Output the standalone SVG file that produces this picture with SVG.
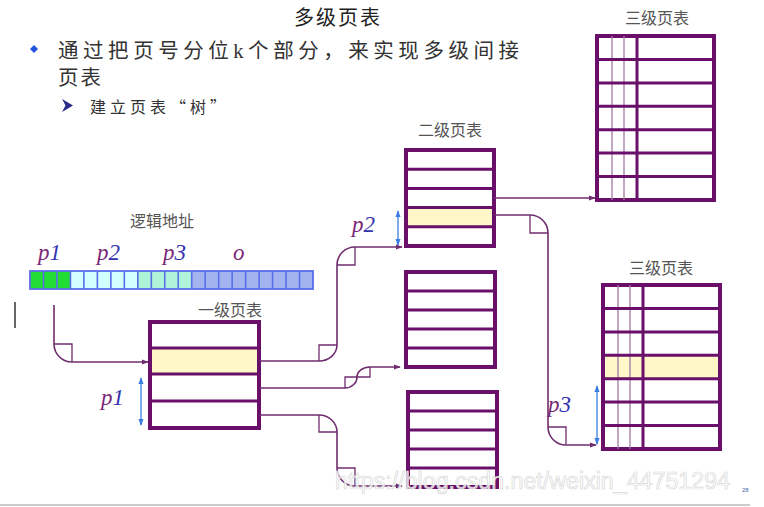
<svg xmlns="http://www.w3.org/2000/svg" width="764" height="507" viewBox="0 0 764 507">
<style>
.t{font-family:"Liberation Serif","Noto Sans CJK SC",serif}
.cjk{font-family:"Noto Sans CJK SC","Liberation Sans",sans-serif}
.lbl{font-family:"Noto Sans CJK SC",sans-serif;font-size:16px;fill:#555}
.tb{fill:#fff;stroke:#6a0f6a;stroke-width:4}
.rl{stroke:#6a0f6a;stroke-width:3}
.cl{stroke:#a47aa4;stroke-width:1.3}
.ck{stroke:#6a0f6a;stroke-width:3}
.hl{fill:#fff7c8}
.cn{fill:none;stroke:#6f2d6f;stroke-width:1.6}
.bx{fill:none;stroke:#6f2d6f;stroke-width:1.3}
.ba{stroke:#3b7de0;stroke-width:1.3}
.pv{font-family:"Liberation Serif",serif;font-style:italic;font-size:23px;fill:#7a2878}
.dg{fill:#3434b0}
</style>
<defs>
<marker id="ah" viewBox="0 0 8 8" refX="7" refY="4" markerWidth="7" markerHeight="7" markerUnits="userSpaceOnUse" orient="auto">
<path d="M0,1 L8,4 L0,7 z" fill="#6f2d6f"/>
</marker>
<marker id="bh" viewBox="0 0 8 8" refX="7" refY="4" markerWidth="7" markerHeight="7" markerUnits="userSpaceOnUse" orient="auto-start-reverse">
<path d="M0,1 L8,4 L0,7 z" fill="#3b7de0"/>
</marker>
</defs>
<rect width="764" height="507" fill="#fff"/>

<!-- header texts -->
<g id="header">
<text x="338" y="25" class="cjk" font-size="20" fill="#222" text-anchor="middle" letter-spacing="2">多级页表</text>
<polygon points="34,45 38,49 34,53 30,49" fill="#2255dd"/>
<text x="58" y="58" class="t" font-size="20.5" fill="#333" textLength="461" lengthAdjust="spacing">通过把页号分位k个部分，来实现多级间接</text>
<text x="58" y="85" class="cjk" font-size="20.5" fill="#333" letter-spacing="2">页表</text>
<polygon points="62,99 73,105.5 62,112 65.5,105.5" fill="#2a2a8a"/>
<text x="90" y="113" class="cjk" font-size="16" fill="#333" letter-spacing="4">建立页表“树”</text>
</g>

<!-- logical address -->
<g id="logical-address">
<text x="162" y="227" class="lbl" text-anchor="middle">逻辑地址</text>
<text x="38" y="260" class="pv">p<tspan class="dg">1</tspan></text>
<text x="97" y="260" class="pv">p<tspan class="dg">2</tspan></text>
<text x="163" y="260" class="pv">p<tspan class="dg">3</tspan></text>
<text x="233" y="260" class="pv">o</text>
<rect x="30" y="271" width="40.43" height="18" fill="#22dd33"/>
<rect x="70.43" y="271" width="67.38" height="18" fill="#d2ffff"/>
<rect x="137.81" y="271" width="53.9" height="18" fill="#aff3d8"/>
<rect x="191.71" y="271" width="121.29" height="18" fill="#a3b3f0"/>
<path d="M43.48,271V289M56.95,271V289M70.43,271V289M83.9,271V289M97.38,271V289M110.86,271V289M124.33,271V289M137.81,271V289M151.29,271V289M164.76,271V289M178.24,271V289M191.71,271V289M205.19,271V289M218.67,271V289M232.14,271V289M245.62,271V289M259.1,271V289M272.57,271V289M286.05,271V289M299.52,271V289" stroke="#5a6ee8" stroke-width="1.6"/>
<rect x="30" y="271" width="283" height="18" fill="none" stroke="#5a6ee8" stroke-width="1.8"/>
</g>

<!-- level 1 table -->
<g id="level1">
<text x="198" y="316" class="lbl" font-size="17">一级页表</text>
<rect x="150" y="322" width="109" height="106" class="tb"/>
<rect x="152" y="348" width="105" height="26" class="hl"/>
<path d="M150,348H259M150,374H259M150,401H259" class="rl"/>
<line x1="141" y1="378" x2="141" y2="425" class="ba" marker-start="url(#bh)" marker-end="url(#bh)"/>
<text x="101" y="405" class="pv">p<tspan class="dg">1</tspan></text>
</g>

<!-- level 2 tables -->
<g id="level2-top">
<text x="450" y="136" class="lbl" font-size="17" text-anchor="middle">二级页表</text>
<rect x="406" y="150" width="88" height="96" class="tb"/>
<rect x="408" y="207.6" width="84" height="19.2" class="hl"/>
<path d="M406,169.2H494M406,188.4H494M406,207.6H494M406,226.8H494" class="rl"/>
<line x1="398" y1="211" x2="398" y2="245" class="ba" marker-start="url(#bh)" marker-end="url(#bh)"/>
<text x="352" y="232" class="pv">p<tspan class="dg">2</tspan></text>
</g>
<g id="level2-mid">
<rect x="406" y="272" width="89" height="95" class="tb"/>
<path d="M406,291H495M406,310H495M406,329H495M406,348H495" class="rl"/>
</g>
<g id="level2-bot">
<rect x="408" y="392" width="89" height="95" class="tb"/>
<path d="M408,411H497M408,430H497M408,449H497M408,468H497" class="rl"/>
</g>

<!-- level 3 tables -->
<g id="level3-top">
<text x="657" y="24" class="lbl" font-size="17" text-anchor="middle">三级页表</text>
<rect x="597" y="36" width="117" height="164" class="tb"/>
<path d="M612,36V200M624,36V200" class="cl"/>
<path d="M637,36V200" class="ck"/>
<path d="M597,59.4H714M597,82.9H714M597,106.3H714M597,129.7H714M597,153.1H714M597,176.6H714" class="rl"/>
</g>
<g id="level3-bot">
<text x="661" y="274" class="lbl" font-size="17" text-anchor="middle">三级页表</text>
<rect x="603" y="285" width="117" height="164" class="tb"/>
<rect x="605" y="355.3" width="113" height="23.4" class="hl"/>
<path d="M618,285V449M630,285V449" class="cl"/>
<path d="M643,285V449" class="ck"/>
<path d="M603,308.4H720M603,331.9H720M603,355.3H720M603,378.7H720M603,402.1H720M603,425.6H720" class="rl"/>
<line x1="597" y1="386" x2="597" y2="444" class="ba" marker-start="url(#bh)" marker-end="url(#bh)"/>
<text x="548" y="412" class="pv">p<tspan class="dg">3</tspan></text>
</g>

<!-- connectors -->
<g id="connectors">
<path d="M54,305V344A18,18 0 0 0 72,362H148" class="cn" marker-end="url(#ah)"/>
<path d="M54,344H72V362" class="bx"/>
<path d="M259,361H319A18,16 0 0 0 337,345V265A18,18 0 0 1 355,247H402" class="cn" marker-end="url(#ah)"/>
<path d="M319,361V345H337M337,265H355V247" class="bx"/>
<path d="M259,388H345A12,11 0 0 0 357,377A13,10 0 0 1 370,367H400" class="cn" marker-end="url(#ah)"/>
<path d="M345,388V377H357M357,377H370V367" class="bx"/>
<path d="M259,415H319A18,17 0 0 1 337,432V468A18,18 0 0 0 355,486H402" class="cn" marker-end="url(#ah)"/>
<path d="M319,415V432H337M337,468H355V486" class="bx"/>
<path d="M494,198H595" class="cn" marker-end="url(#ah)"/>
<path d="M494,215H530A18,18 0 0 1 548,233V427A18,18 0 0 0 566,445H596" class="cn" marker-end="url(#ah)"/>
<path d="M530,215V233H548M548,427H566V445" class="bx"/>
</g>

<!-- misc -->
<line x1="15" y1="302" x2="15" y2="328" stroke="#666" stroke-width="2"/>
<line x1="0" y1="505" x2="750" y2="505" stroke="#bbb" stroke-width="1.5"/>
<text x="335" y="489" font-family="Liberation Sans,sans-serif" font-size="23" fill="#fff" fill-opacity="0.8" stroke="#d8d8d8" stroke-width="0.7" textLength="395" lengthAdjust="spacingAndGlyphs">https://blog.csdn.net/weixin_44751294</text>
<text x="742" y="492" font-family="Liberation Sans,sans-serif" font-size="6" fill="#4466aa">28</text>
</svg>
